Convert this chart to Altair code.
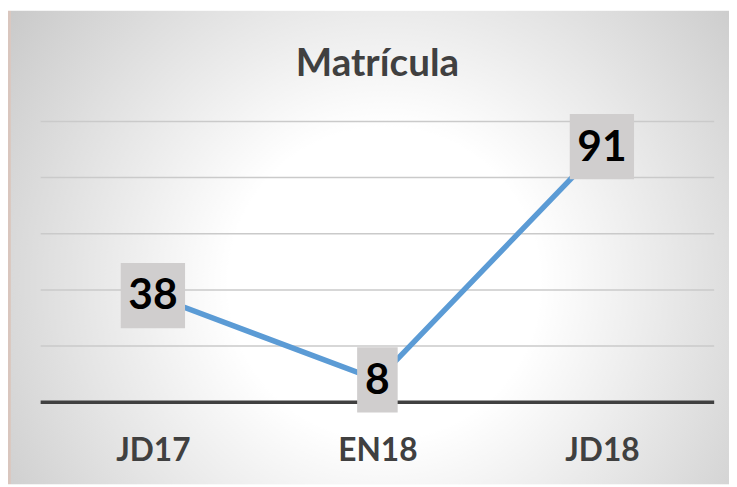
import altair as alt
import pandas as pd

categories = ["JD17", "EN18", "JD18"]
values = [38, 8, 91]
grid_values = [20, 40, 60, 80, 100]
baseline_value = [0]

df = pd.DataFrame({"cat": categories, "v": values})
grid_df = pd.DataFrame({"g": grid_values})
base_df = pd.DataFrame({"g": baseline_value})

W, H = 681, 284
PAD = {"left": 33, "top": 112, "right": 15, "bottom": 83}

x_axis = alt.Axis(
    title=None, domain=False, ticks=False, grid=False, labelAngle=0,
    labelFont="Lato", labelFontSize=32, labelFontWeight="bold",
    labelColor="#404040", labelBaseline="alphabetic", labelPadding=59,
    zindex=1,
)
x_enc = alt.X("cat:N", sort=categories,
              scale=alt.Scale(type="point", padding=0.5), axis=x_axis)
y_scale = alt.Scale(domain=[0, 100], nice=False, zero=True)

gradient = {
    "gradient": "radial",
    "x1": 0.52, "y1": 0.55, "r1": 0,
    "x2": 0.52, "y2": 0.55, "r2": 0.72,
    "stops": [
        {"offset": 0, "color": "#ffffff"},
        {"offset": 0.3, "color": "#ffffff"},
        {"offset": 1, "color": "#c0c0c0"},
    ],
}

dummy = alt.Data(values=[{"a": 1}])

strip = alt.Chart(dummy).mark_rect(fill="#d9c6be", clip=False).encode(
    x=alt.value(-PAD["left"]), x2=alt.value(-PAD["left"] + 3),
    y=alt.value(-PAD["top"]), y2=alt.value(H + PAD["bottom"]),
)

bg = alt.Chart(dummy).mark_rect(fill=gradient, clip=False).encode(
    x=alt.value(-PAD["left"] + 3), x2=alt.value(W + PAD["right"]),
    y=alt.value(-PAD["top"]), y2=alt.value(H + PAD["bottom"]),
)

grid = alt.Chart(grid_df).mark_rule(color="#cacaca", strokeWidth=1.5).encode(
    y=alt.Y("g:Q", scale=y_scale, axis=None),
)

base = alt.Chart(base_df).mark_rule(color="#404040", strokeWidth=3.5).encode(
    y=alt.Y("g:Q", scale=y_scale, axis=None),
)

line = alt.Chart(df).mark_line(color="#5B9BD5", strokeWidth=5.5).encode(
    x=x_enc, y=alt.Y("v:Q", scale=y_scale, axis=None),
)

dots = alt.Chart(df).mark_point(
    filled=True, shape="circle", size=1520, color="#5B9BD5", opacity=1
).encode(x=x_enc, y=alt.Y("v:Q", scale=y_scale, axis=None))

path1 = "M-0.621,-1L0.621,-1L0.621,1L-0.621,1Z"
path2 = "M-0.985,-1L0.985,-1L0.985,1L-0.985,1Z"

boxes = alt.Chart(df).transform_calculate(
    nd="length(toString(datum.v))"
).mark_point(
    filled=True, fill="#D0CECE", size=4356, opacity=1, strokeWidth=0
).encode(
    x=x_enc,
    y=alt.Y("v:Q", scale=y_scale, axis=None),
    shape=alt.Shape("nd:O", scale=alt.Scale(domain=[1, 2], range=[path1, path2]), legend=None),
)

labels = alt.Chart(df).mark_text(
    font="Lato", fontSize=43, fontWeight="bold", color="#000000",
    baseline="middle", dy=1,
).encode(
    x=x_enc, y=alt.Y("v:Q", scale=y_scale, axis=None), text=alt.Text("v:Q"),
)

chart = alt.layer(strip, bg, grid, base, line, dots, boxes, labels).properties(
    width=W, height=H,
    autosize=alt.AutoSizeParams(type="none"),
    padding=PAD,
    background="#ffffff",
    title=alt.TitleParams(
        text="Matrícula", font="Lato", fontSize=39, fontWeight="bold",
        color="#404040", anchor="middle", frame="group",
        baseline="alphabetic", offset=-105, zindex=1,
    ),
).configure_view(strokeWidth=0)

chart.save("out.html", embed_options={"renderer": "svg", "actions": False})
